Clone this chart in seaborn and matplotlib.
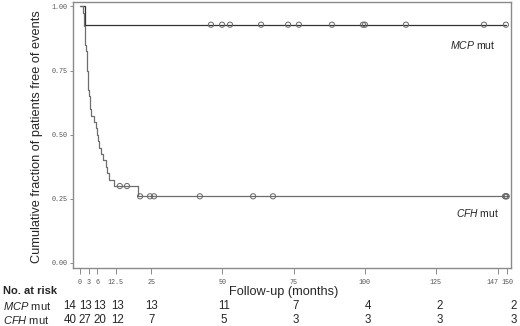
import numpy as np
import matplotlib
matplotlib.use('Agg')
import matplotlib.pyplot as plt
import matplotlib.transforms as mtransforms
import seaborn as sns

# Kaplan-Meier steps (months, fraction free of events)
mcp_step_t = [0, 1.9]
mcp_step_s = [1.0, 0.929]
mcp_censored = [46.0, 49.9, 52.7, 63.6, 73.1, 76.9, 88.5, 99.4, 100.1, 114.5, 141.9, 149.6]

cfh_step_t = [0, 1.1, 1.3, 1.4, 1.6, 1.8, 1.9, 2.1, 2.3, 2.4, 2.6, 2.7, 2.8, 2.95,
              3.2, 3.4, 3.6, 3.9, 4.8, 5.6, 5.9, 6.3, 6.8, 7.5, 8.1, 9.0, 9.5, 10.2,
              11.9, 20.4]
cfh_step_s = [1.0, 0.975, 0.95, 0.925, 0.9, 0.875, 0.85, 0.825, 0.8, 0.775, 0.75,
              0.725, 0.7, 0.675, 0.65, 0.625, 0.6, 0.575, 0.55, 0.525, 0.5, 0.475,
              0.45, 0.425, 0.4, 0.375, 0.35, 0.325, 0.3, 0.26]
cfh_censored = [14.0, 16.5, 21.1, 24.6, 26.0, 42.1, 60.8, 67.8, 149.3, 149.6, 149.9]

# x ticks and the number-at-risk table
tick_vals = [0, 3, 6, 12.5, 25, 50, 75, 100, 125, 147, 150]
tick_labels = ['0', '3', '6', '12.5', '25', '50', '75', '100', '125', '147', '150']
risk_times = [-3.5, 1.8, 7.0, 13.3, 25.3, 50.5, 75.9, 101.2, 126.4, 152.4]
mcp_at_risk = [14, 13, 13, 13, 13, 11, 7, 4, 2, 2]
cfh_at_risk = [40, 27, 20, 12, 7, 5, 3, 3, 3, 3]

sns.set_style('ticks')
plt.rcParams['font.family'] = ['Liberation Sans', 'DejaVu Sans']
plt.rcParams['mathtext.fontset'] = 'custom'
plt.rcParams['mathtext.rm'] = 'Liberation Sans'
plt.rcParams['mathtext.it'] = 'Liberation Sans:italic'

W, H = 520, 326
fig = plt.figure(figsize=(5.2, 3.26), dpi=100)
ax = fig.add_axes([73/W, 1-268/H, 438/W, 266/H])

frame = '#8a8a8a'
mcp_col = '#333333'
cfh_col = '#6e6e6e'


def censor_y(times, surv, cens):
    idx = np.searchsorted(times, cens, side='right') - 1
    return np.asarray(surv)[idx]


# MCP
t = mcp_step_t + [max(mcp_censored)]
s = mcp_step_s + [mcp_step_s[-1]]
sns.lineplot(x=t, y=s, drawstyle='steps-post', color=mcp_col, lw=0.9,
             estimator=None, sort=False, ax=ax)
sns.scatterplot(x=mcp_censored, y=censor_y(mcp_step_t, mcp_step_s, mcp_censored),
                marker='o', s=14, facecolors='none', edgecolor='#666666',
                linewidth=0.7, ax=ax, zorder=3)

# CFH
t = cfh_step_t + [max(cfh_censored)]
s = cfh_step_s + [cfh_step_s[-1]]
sns.lineplot(x=t, y=s, drawstyle='steps-post', color=cfh_col, lw=0.9,
             estimator=None, sort=False, ax=ax)
sns.scatterplot(x=cfh_censored, y=censor_y(cfh_step_t, cfh_step_s, cfh_censored),
                marker='o', s=14, facecolors='none', edgecolor='#666666',
                linewidth=0.7, ax=ax, zorder=3)

ax.set_xlim(-2.46, 151.4)
ax.set_ylim(-0.0195, 1.0175)
ax.set_xticks(tick_vals)
ax.set_xticklabels(tick_labels)
ax.set_yticks([0, 0.25, 0.5, 0.75, 1.0])
ax.set_yticklabels(['0.00', '0.25', '0.50', '0.75', '1.00'])
for lab in ax.get_xticklabels() + ax.get_yticklabels():
    lab.set_fontfamily('Liberation Mono')
    lab.set_fontsize(4.9)
    lab.set_color('#555555')
# 147 and 150 sit close together: push 147 to the left of its tick
ax.get_xticklabels()[tick_labels.index('147')].set_ha('right')
ax.tick_params(axis='x', length=4, width=0.7, color=frame, pad=4)
ax.tick_params(axis='y', length=2.5, width=0.7, color=frame, pad=1.5)
for sp in ax.spines.values():
    sp.set_visible(True)
    sp.set_color(frame)
    sp.set_linewidth(1.0)

ax.set_ylabel('Cumulative fraction of patients free of events', fontsize=9.2)
ax.yaxis.set_label_coords((37-73)/438, (268-137)/266)
ax.yaxis.label.set_va('center')
ax.set_xlabel('Follow-up (months)', fontsize=9.2)
ax.xaxis.set_label_coords((284-73)/438, (268-292)/266)
ax.xaxis.label.set_va('center')

fig.text(496/W, 1-45/H, r'$\it{MCP}$ mut', fontsize=7.6, ha='right', va='center')
fig.text(499/W, 1-213/H, r'$\it{CFH}$ mut', fontsize=7.4, ha='right', va='center')

# number at risk table
fig.text(3/W, 1-291/H, 'No. at risk', fontsize=8, fontweight='bold',
         ha='left', va='center')
fig.text(3/W, 1-306/H, r'$\it{MCP}$ mut', fontsize=8, ha='left', va='center')
fig.text(3/W, 1-320/H, r'$\it{CFH}$ mut', fontsize=8, ha='left', va='center')
trans = mtransforms.blended_transform_factory(ax.transData, fig.transFigure)
for xt, m, c in zip(risk_times, mcp_at_risk, cfh_at_risk):
    ax.text(xt, 1-306/H, str(m), transform=trans, fontsize=8.3,
            ha='center', va='center', clip_on=False)
    ax.text(xt, 1-320/H, str(c), transform=trans, fontsize=8.3,
            ha='center', va='center', clip_on=False)

fig.savefig('out.png', dpi=100)
